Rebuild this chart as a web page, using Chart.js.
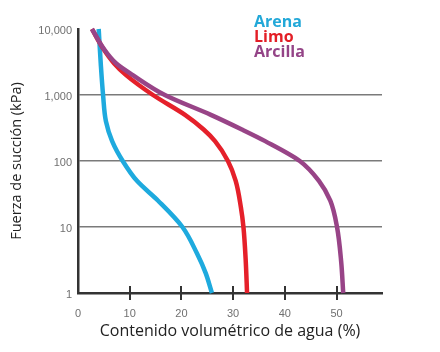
<!DOCTYPE html>
<html>
<head>
<meta charset="utf-8">
<script src="https://cdn.jsdelivr.net/npm/chart.js@4/dist/chart.umd.min.js"></script>
<style>
  html, body { margin: 0; padding: 0; background: #fff; }
  #wrap { position: relative; width: 440px; height: 352px; }
  #legend {
    position: absolute; left: 254px; top: 14px;
    font-family: "Open Sans", sans-serif; font-weight: bold;
    font-size: 16px; line-height: 15px;
  }
</style>
</head>
<body>
<div id="wrap">
  <canvas id="chart" width="440" height="352"></canvas>
  <div id="legend">
    <div style="color:#22a8d8">Arena</div>
    <div style="color:#e31e26">Limo</div>
    <div style="color:#944487">Arcilla</div>
  </div>
</div>
<script>
// values: x = water content (%), y = suction (kPa)
const arenaX = [4.0, 4.4, 4.85, 5.4, 6.6, 8.65, 11.4, 15.5, 20.2, 23.0, 24.7, 25.9];
const arenaY = [10000, 3000, 1000, 400, 200, 100, 50, 25, 10, 4, 2, 1];

const limoX = [2.7, 4.9, 7.0, 9.3, 14.5, 20.7, 24.3, 26.5, 29.0, 30.5, 31.5, 32.0, 32.45, 32.7];
const limoY = [10000, 5000, 3000, 2000, 1000, 500, 300, 200, 100, 50, 20, 10, 3, 1];

const arcillaX = [2.7, 5.0, 7.4, 10.6, 16.8, 25.7, 31.7, 36.2, 42.9, 46.6, 48.8, 50.1, 50.9, 51.3];
const arcillaY = [10000, 5000, 3000, 2000, 1000, 500, 300, 200, 100, 50, 25, 10, 3, 1];

const yTicks = [1, 10, 100, 1000, 10000];
const yGridAt = [10, 100, 1000];
const xTicks = [0, 10, 20, 30, 40, 50];
const xTickMarks = [10, 20, 30, 40, 50];

function toPoints(xs, ys) {
    return xs.map((x, i) => ({ x: x, y: ys[i] }));
}

// short tick marks crossing the x axis
const tickMarks = {
    id: 'tickMarks',
    afterDraw(chart) {
        const ctx = chart.ctx;
        const xs = chart.scales.x;
        const bottom = chart.chartArea.bottom;
        ctx.save();
        ctx.strokeStyle = '#333';
        ctx.lineWidth = 2;
        xTickMarks.forEach(v => {
            const px = Math.round(xs.getPixelForValue(v));
            ctx.beginPath();
            ctx.moveTo(px, bottom - 7);
            ctx.lineTo(px, bottom + 7);
            ctx.stroke();
        });
        ctx.restore();
    }
};

// curves are smoothed along the suction axis
const lineStyle = {
    showLine: true,
    fill: false,
    borderWidth: 4.5,
    pointRadius: 0,
    indexAxis: 'y',
    cubicInterpolationMode: 'monotone',
    clip: 4
};

new Chart(document.getElementById('chart'), {
    type: 'scatter',
    data: {
        datasets: [
            Object.assign({ label: 'Arcilla', data: toPoints(arcillaX, arcillaY), borderColor: '#984487' }, lineStyle),
            Object.assign({ label: 'Limo', data: toPoints(limoX, limoY), borderColor: '#e5202a' }, lineStyle),
            Object.assign({ label: 'Arena', data: toPoints(arenaX, arenaY), borderColor: '#1eaade' }, lineStyle)
        ]
    },
    options: {
        responsive: false,
        animation: false,
        layout: { padding: { left: 0, top: 29, right: 58, bottom: 0 } },
        plugins: {
            legend: { display: false },
            tooltip: { enabled: false }
        },
        scales: {
            x: {
                type: 'linear',
                min: 0,
                max: 58.8,
                afterFit: s => { s.height = 59; },
                afterBuildTicks: s => { s.ticks = xTicks.map(v => ({ value: v })); },
                grid: { display: false, drawTicks: false },
                border: { display: true, color: '#333', width: 2.5 },
                ticks: {
                    padding: 14,
                    color: '#707070',
                    font: { family: 'Liberation Sans', size: 11 }
                },
                title: {
                    display: true,
                    text: 'Contenido volumétrico de agua (%)',
                    color: '#222',
                    font: { family: 'Open Sans', size: 16 },
                    padding: { top: 0, bottom: 11 }
                }
            },
            y: {
                type: 'logarithmic',
                min: 1,
                max: 10000,
                afterFit: s => { s.width = 78; },
                afterBuildTicks: s => { s.ticks = yTicks.map(v => ({ value: v })); },
                grid: {
                    drawTicks: false,
                    lineWidth: 1.5,
                    color: c => yGridAt.includes(c.tick && c.tick.value) ? '#7a7a7a' : 'rgba(0,0,0,0)'
                },
                border: { display: true, color: '#333', width: 2.5 },
                ticks: {
                    padding: 6,
                    labelOffset: 2,
                    color: '#707070',
                    font: { family: 'Liberation Sans', size: 11 },
                    callback: v => Number(v).toLocaleString('en-US')
                },
                title: {
                    display: true,
                    text: 'Fuerza de succión (kPa)',
                    color: '#222',
                    font: { family: 'Open Sans', size: 14.5 },
                    padding: { top: 8, bottom: 0 }
                }
            }
        }
    },
    plugins: [tickMarks]
});
</script>
</body>
</html>
